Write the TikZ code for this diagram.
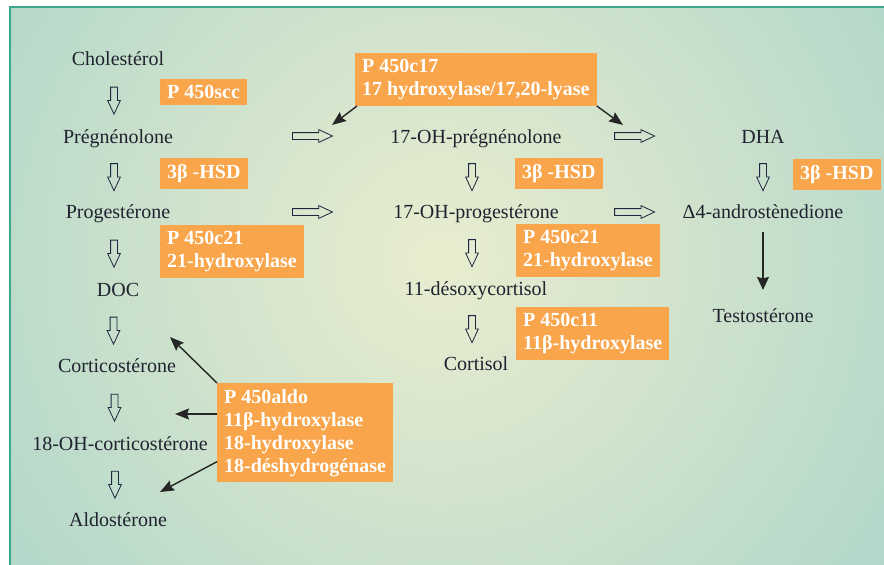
\documentclass[tikz,border=0pt]{standalone}
\usepackage{fontspec}
\setmainfont{Liberation Serif}
\usetikzlibrary{shapes.arrows,arrows.meta}

\definecolor{glow}{HTML}{E9EDCF}
\definecolor{sea}{HTML}{A6D2C8}
\definecolor{rim}{HTML}{3AA68A}
\definecolor{enzfill}{HTML}{F9A54B}
\definecolor{ink}{HTML}{202230}
\definecolor{hollowink}{HTML}{1F2640}

\begin{document}
\begin{tikzpicture}[
	x = 1pt, y = -1pt,
	every node/.style = {font=\fontsize{20}{23}\selectfont, text=ink},
	steroid/.style = {anchor=base, inner sep=0pt},
	enzyme/.style = {anchor=north west, fill=enzfill, text=white,
		font=\fontsize{20}{23}\selectfont\bfseries, align=left,
		inner xsep=7pt, inner ysep=6pt},
	hollow/.style = {single arrow, draw=hollowink, line width=0.8pt,
		inner xsep=0pt, inner ysep=3pt, single arrow head extend=3pt,
		single arrow tip angle=50, minimum height=40pt},
	hollow down/.style = {hollow, rotate=-90, minimum height=27pt},
	pointer/.style = {draw=black!85, line width=1.4pt,
		-{Stealth[length=14pt, width=11pt, inset=2pt]}}
	]
	\useasboundingbox (0,0) rectangle (884,565);
	\begin{scope}
		\clip (10,7) rectangle (884,565);
		\shade[inner color=glow, outer color=sea] (440,260) circle (660);
	\end{scope}
	\draw[rim, line width=1.6pt] (10,565) -- (10,7) -- (884,7);

	\node[steroid] (chol) at (118,65) {Cholestérol};
	\node[steroid] (pregn) at (118,143) {Prégnénolone};
	\node[steroid] (proges) at (118,218) {Progestérone};
	\node[steroid] (doc) at (118,296) {DOC};
	\node[steroid] (cortico) at (117,372) {Corticostérone};
	\node[steroid] (ohcortico) at (120,450) {18-OH-corticostérone};
	\node[steroid] (aldost) at (118,526) {Aldostérone};
	\node[steroid] (ohpregn) at (476,143) {17-OH-prégnénolone};
	\node[steroid] (ohproges) at (476,218) {17-OH-progestérone};
	\node[steroid] (desoxy) at (476,295) {11-désoxycortisol};
	\node[steroid] (cortisol) at (476,370) {Cortisol};
	\node[steroid] (dha) at (763,143) {DHA};
	\node[steroid] (andro) at (763,218) {Δ4-androstènedione};
	\node[steroid] (testo) at (763,322) {Testostérone};

	\node[enzyme] (scc) at (160,79) {P 450scc};
	\node[enzyme] (hsdl) at (160,158) {3β -HSD};
	\node[enzyme] (cyp21l) at (160,225) {P 450c21\\21-hydroxylase};
	\node[enzyme] (cyp17) at (355,53) {P 450c17\\17 hydroxylase/17,20-lyase};
	\node[enzyme] (hsdm) at (515,158) {3β -HSD};
	\node[enzyme] (cyp21m) at (516,224) {P 450c21\\21-hydroxylase};
	\node[enzyme] (cyp11) at (516,307) {P 450c11\\11β-hydroxylase};
	\node[enzyme] (hsdr) at (793,159) {3β -HSD};
	\node[enzyme] (aldo) at (217,383)
		{P 450aldo\\11β-hydroxylase\\18-hydroxylase\\18-déshydrogénase};

	\foreach \a/\b in {chol/pregn, pregn/proges, proges/doc, doc/cortico,
		cortico/ohcortico, ohcortico/aldost, ohpregn/ohproges,
		ohproges/desoxy, desoxy/cortisol}
		\path ([xshift=-4pt]\a.base) -- node[yshift=7pt, hollow down] (\a-\b) {}
			([xshift=-4pt]\b.base);
	\path (dha.base) -- node[yshift=7pt, hollow down] (dha-andro) {} (andro.base);

	\path (pregn.base) -- node[pos=0.533, yshift=7pt, hollow] (pregn-ohpregn) {} (ohpregn.base);
	\path (proges.base) -- node[pos=0.533, yshift=6pt, hollow] (proges-ohproges) {} (ohproges.base);
	\path (ohpregn.base) -- node[pos=0.54, yshift=7pt, hollow] (ohpregn-dha) {} (dha.base);
	\path (ohproges.base) -- node[pos=0.54, yshift=6pt, hollow] (ohproges-andro) {} (andro.base);

	\coordinate (tip17l) at (332,125);
	\coordinate (tip17r) at (623,125);
	\coordinate (tipcortico) at (170,337);
	\coordinate (tipohcortico) at (175,414);
	\coordinate (tipaldost) at (160,492);
	\draw[pointer] ([xshift=2pt]cyp17.south west) -- (tip17l);
	\draw[pointer] (cyp17.south east) -- (tip17r);
	\draw[pointer] (aldo.north west) -- (tipcortico);
	\draw[pointer] ([yshift=-31pt]aldo.north west) -- (tipohcortico);
	\draw[pointer] ([yshift=21pt]aldo.south west) -- (tipaldost);
	\draw[draw=black!85, line width=1.2pt, shorten <=14pt, shorten >=18pt,
		-{Stealth[length=13pt, width=12pt, inset=1.5pt]}] (andro.south) -- (testo.north);
\end{tikzpicture}
\end{document}
